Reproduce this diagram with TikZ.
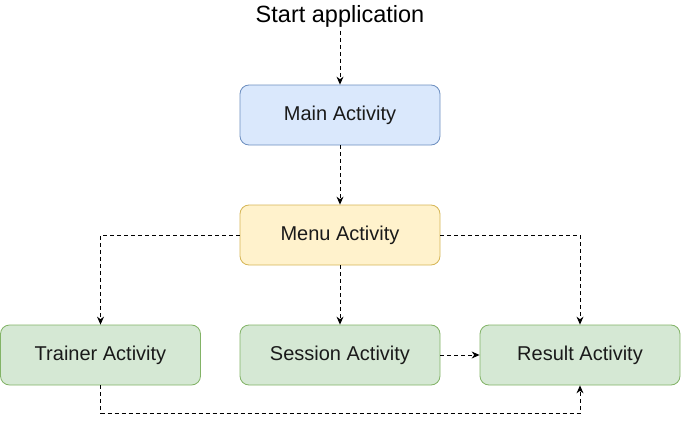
\documentclass[tikz,border=0pt]{standalone}
\usepackage{fontspec}
\setmainfont{Liberation Sans}
\usetikzlibrary{arrows.meta}

\definecolor{bluefill}{HTML}{DAE8FC}
\definecolor{bluedraw}{HTML}{6C8EBF}
\definecolor{yellowfill}{HTML}{FFF2CC}
\definecolor{yellowdraw}{HTML}{D6B656}
\definecolor{greenfill}{HTML}{D5E8D4}
\definecolor{greendraw}{HTML}{82B366}
\definecolor{textgray}{HTML}{1A1A1A}

\begin{document}
\begin{tikzpicture}[x=1pt,y=-1pt,
  activity/.style={rectangle,rounded corners=9pt,minimum width=200pt,minimum height=60pt,
    line width=0.8pt,font=\fontsize{20}{24}\selectfont,text=textgray},
  mainbox/.style={activity,draw=bluedraw,fill=bluefill},
  menubox/.style={activity,draw=yellowdraw,fill=yellowfill},
  leafbox/.style={activity,draw=greendraw,fill=greenfill},
  flow/.style={line width=0.9pt,dash pattern=on 4pt off 3pt,-{Stealth[length=8pt,width=7pt]}}]
\useasboundingbox (0,0) rectangle (681,423);

\node (start) at (340,16.5) {\fontsize{23.5}{28}\selectfont Start application};
\node[mainbox] (main) at (340,115) {\raisebox{-1.5pt}{Main Activity}};
\node[menubox] (menu) at (340,235) {\raisebox{-1.5pt}{Menu Activity}};
\node[leafbox] (trainer) at (100.5,355) {\raisebox{-1.5pt}{Trainer Activity}};
\node[leafbox] (session) at (340,355) {\raisebox{-1.5pt}{Session Activity}};
\node[leafbox] (result) at (580,355) {\raisebox{-1.5pt}{Result Activity}};

\draw[flow] (start) -- (main);
\draw[flow] (main) -- (menu);
\draw[flow] (menu.west) -| (trainer.north);
\draw[flow] (menu) -- (session);
\draw[flow] (menu.east) -| (result.north);
\draw[flow] (session) -- (result);
\draw[flow] (trainer.south) -- ++(0,28) -| (result.south);
\end{tikzpicture}
\end{document}
